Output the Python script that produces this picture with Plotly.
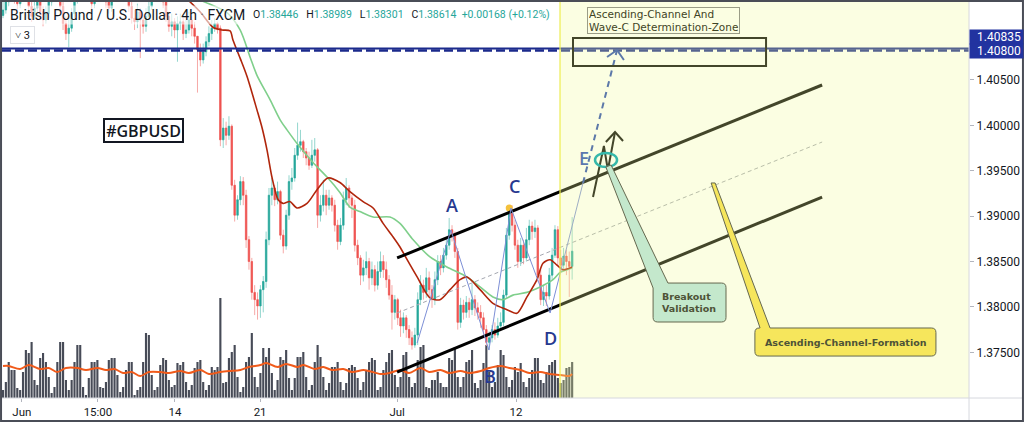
import plotly.graph_objects as go

# ---------------- data ----------------
x_tick_pos = [6.6, 33.2, 60.1, 89.9, 137.8, 179.4]
x_tick_text = ["Jun", "15:00", "14", "21", "Jul", "12"]
price_ticks = [1.375, 1.380, 1.385, 1.390, 1.395, 1.400, 1.405]

first_open = 1.4121
closes = [
    1.4127, 1.4136, 1.4145, 1.4151, 1.4142, 1.4134, 1.4142, 1.4153, 1.4145, 1.4131,
    1.4120, 1.4129, 1.4138, 1.4125, 1.4116, 1.4123, 1.4136, 1.4149, 1.4160, 1.4149,
    1.4131, 1.4112, 1.4101, 1.4107, 1.4123, 1.4138, 1.4149, 1.4160, 1.4167, 1.4156,
    1.4145, 1.4134, 1.4142, 1.4153, 1.4160, 1.4149, 1.4136, 1.4129, 1.4140, 1.4151,
    1.4160, 1.4167, 1.4156, 1.4145, 1.4131, 1.4118, 1.4114, 1.4125, 1.4116, 1.4109,
    1.4120, 1.4131, 1.4142, 1.4149, 1.4156, 1.4147, 1.4136, 1.4120, 1.4109, 1.4114,
    1.4105, 1.4112, 1.4114, 1.4101, 1.4105, 1.4116, 1.4107, 1.4098, 1.4083, 1.4072,
    1.4081, 1.4092, 1.4101, 1.4107, 1.4112, 1.4107, 1.3984, 1.3997, 1.3989, 1.3999,
    1.3934, 1.3901, 1.3918, 1.3938, 1.3923, 1.3874, 1.3850, 1.3816, 1.3808, 1.3801,
    1.3819, 1.3828, 1.3874, 1.3923, 1.3931, 1.3918, 1.3927, 1.3879, 1.3867, 1.3901,
    1.3938, 1.3942, 1.3967, 1.3978, 1.3982, 1.3971, 1.3964, 1.3956, 1.3967, 1.3973,
    1.3901, 1.3912, 1.3923, 1.3912, 1.3920, 1.3912, 1.3890, 1.3872, 1.3890, 1.3918,
    1.3931, 1.3920, 1.3912, 1.3868, 1.3854, 1.3835, 1.3843, 1.3850, 1.3832, 1.3841,
    1.3824, 1.3839, 1.3850, 1.3841, 1.3830, 1.3813, 1.3794, 1.3808, 1.3788, 1.3779,
    1.3788, 1.3775, 1.3766, 1.3758, 1.3769, 1.3808, 1.3824, 1.3816, 1.3832, 1.3819,
    1.3808, 1.3830, 1.3850, 1.3843, 1.3857, 1.3868, 1.3885, 1.3878, 1.3861, 1.3783,
    1.3802, 1.3794, 1.3805, 1.3797, 1.3808, 1.3799, 1.3794, 1.3788, 1.3775, 1.3761,
    1.3766, 1.3775, 1.3769, 1.3779, 1.3783, 1.3813, 1.3879, 1.3903, 1.3890, 1.3868,
    1.3850, 1.3868, 1.3854, 1.3874, 1.3889, 1.3883, 1.3887, 1.3835, 1.3808, 1.3816,
    1.3812, 1.3835, 1.3857, 1.3885, 1.3854, 1.3846, 1.3856, 1.3850, 1.38446, 1.38614,
]
highs = [
    1.4144, 1.4147, 1.4155, 1.4160, 1.4156, 1.4147, 1.4151, 1.4160, 1.4158, 1.4147,
    1.4136, 1.4136, 1.4145, 1.4140, 1.4131, 1.4131, 1.4145, 1.4158, 1.4169, 1.4164,
    1.4151, 1.4136, 1.4120, 1.4118, 1.4129, 1.4147, 1.4158, 1.4167, 1.4175, 1.4171,
    1.4160, 1.4149, 1.4151, 1.4162, 1.4169, 1.4164, 1.4151, 1.4142, 1.4147, 1.4160,
    1.4169, 1.4175, 1.4171, 1.4160, 1.4147, 1.4136, 1.4127, 1.4134, 1.4129, 1.4123,
    1.4129, 1.4142, 1.4151, 1.4158, 1.4164, 1.4160, 1.4149, 1.4140, 1.4125, 1.4123,
    1.4118, 1.4120, 1.4123, 1.4118, 1.4116, 1.4125, 1.4120, 1.4114, 1.4098, 1.4090,
    1.4090, 1.4098, 1.4109, 1.4116, 1.4118, 1.4114, 1.4110, 1.4008, 1.4004, 1.4010,
    1.4001, 1.3940, 1.3923, 1.3944, 1.3943, 1.3929, 1.3878, 1.3854, 1.3824, 1.3816,
    1.3824, 1.3834, 1.3883, 1.3931, 1.3942, 1.3934, 1.3938, 1.3929, 1.3885, 1.3907,
    1.3945, 1.3953, 1.3975, 1.4003, 1.3995, 1.3984, 1.3975, 1.3971, 1.3984, 1.3986,
    1.3975, 1.3923, 1.3940, 1.3929, 1.3929, 1.3923, 1.3918, 1.3896, 1.3898, 1.3927,
    1.3942, 1.3934, 1.3923, 1.3918, 1.3874, 1.3857, 1.3852, 1.3861, 1.3854, 1.3850,
    1.3846, 1.3850, 1.3861, 1.3857, 1.3850, 1.3835, 1.3824, 1.3813, 1.3810, 1.3797,
    1.3794, 1.3791, 1.3780, 1.3773, 1.3777, 1.3816, 1.3835, 1.3830, 1.3843, 1.3839,
    1.3824, 1.3839, 1.3857, 1.3857, 1.3865, 1.3876, 1.3898, 1.3890, 1.3883, 1.3865,
    1.3810, 1.3808, 1.3812, 1.3810, 1.3826, 1.3813, 1.3805, 1.3802, 1.3794, 1.3780,
    1.3773, 1.3780, 1.3783, 1.3788, 1.3794, 1.3819, 1.3887, 1.3909, 1.3912, 1.3896,
    1.3874, 1.3876, 1.3874, 1.3887, 1.3896, 1.3894, 1.3896, 1.3890, 1.3841, 1.3824,
    1.3824, 1.3843, 1.3865, 1.3890, 1.3889, 1.3863, 1.3865, 1.3863, 1.3861, 1.38989,
]
lows = [
    1.4118, 1.4123, 1.4131, 1.4140, 1.4134, 1.4127, 1.4129, 1.4140, 1.4136, 1.4125,
    1.4114, 1.4116, 1.4125, 1.4118, 1.4109, 1.4112, 1.4118, 1.4131, 1.4145, 1.4140,
    1.4125, 1.4105, 1.4094, 1.4086, 1.4103, 1.4118, 1.4134, 1.4145, 1.4153, 1.4147,
    1.4136, 1.4127, 1.4129, 1.4140, 1.4149, 1.4142, 1.4129, 1.4123, 1.4125, 1.4138,
    1.4147, 1.4156, 1.4149, 1.4138, 1.4125, 1.4112, 1.4105, 1.4107, 1.4074, 1.4101,
    1.4103, 1.4116, 1.4127, 1.4136, 1.4145, 1.4138, 1.4129, 1.4114, 1.4103, 1.4098,
    1.4096, 1.4070, 1.4105, 1.4094, 1.4096, 1.4101, 1.4098, 1.4090, 1.4036, 1.4065,
    1.4068, 1.4076, 1.4087, 1.4094, 1.4103, 1.4101, 1.3977, 1.3975, 1.3978, 1.3984,
    1.3929, 1.3894, 1.3896, 1.3912, 1.3912, 1.3865, 1.3841, 1.3808, 1.3791, 1.3786,
    1.3788, 1.3794, 1.3821, 1.3868, 1.3912, 1.3911, 1.3913, 1.3874, 1.3859, 1.3863,
    1.3896, 1.3929, 1.3938, 1.3962, 1.3971, 1.3964, 1.3956, 1.3951, 1.3953, 1.3960,
    1.3887, 1.3894, 1.3905, 1.3901, 1.3907, 1.3905, 1.3883, 1.3863, 1.3868, 1.3885,
    1.3912, 1.3909, 1.3898, 1.3861, 1.3846, 1.3824, 1.3828, 1.3835, 1.3819, 1.3824,
    1.3817, 1.3819, 1.3832, 1.3832, 1.3821, 1.3808, 1.3775, 1.3786, 1.3780, 1.3767,
    1.3771, 1.3766, 1.3758, 1.3753, 1.3755, 1.3758, 1.3802, 1.3808, 1.3810, 1.3812,
    1.3799, 1.3802, 1.3824, 1.3835, 1.3838, 1.3852, 1.3863, 1.3872, 1.3854, 1.3775,
    1.3777, 1.3786, 1.3788, 1.3788, 1.3791, 1.3790, 1.3786, 1.3777, 1.3766, 1.3757,
    1.3753, 1.3761, 1.3764, 1.3766, 1.3775, 1.3779, 1.3810, 1.3874, 1.3883, 1.3863,
    1.3843, 1.3845, 1.3847, 1.3850, 1.3868, 1.3874, 1.3876, 1.3828, 1.3802, 1.3801,
    1.3801, 1.3808, 1.3830, 1.3854, 1.3846, 1.3839, 1.3841, 1.3835, 1.3811, 1.38301,
]
volume_k = [
    8, 16, 36, 28, 28, 10, 8, 26, 48, 45, 56, 18,
    13, 40, 45, 36, 21, 5, 11, 36, 56, 56, 18, 8, 18, 36, 53, 53, 11, 3, 20, 36,
    36, 38, 11, 10, 16, 38, 40, 40, 23, 6, 11, 28, 36, 36, 3, 8, 11, 36, 65, 63,
    23, 8, 11, 33, 40, 38, 18, 11,
    13, 35, 33, 36, 16, 8, 13, 30, 36, 38, 16, 8, 13, 31, 28, 31, 100, 15, 16, 40,
    46, 53, 21, 6, 11, 36, 41, 65, 21, 11, 25, 50, 41, 50, 25, 8, 18, 41, 38, 48,
    20, 8, 20, 41, 41, 46, 21, 8, 13, 36, 53, 41, 21, 8, 15, 31, 31, 36, 16, 8,
    15, 30, 33, 31, 20, 8, 16, 28, 36, 40, 38, 8, 11, 28, 36, 45, 48, 23, 11,
    21, 43, 46, 21, 11, 15, 38, 51, 53, 11, 10, 18, 18, 26, 15, 11, 11, 40, 38, 51,
    21, 11, 21, 36, 38, 48, 15, 10, 18, 35, 53, 26, 11, 16, 33, 48, 43, 21, 11, 18,
    31, 26, 35, 16, 11, 20, 28, 40, 40, 18, 15, 26, 33, 36, 38, 20, 15, 18, 30, 31, 36,
]
vol_ma_idx = [0, 2, 6, 9, 13, 16, 19, 22, 26, 29, 33, 36, 39, 42, 45, 48, 51, 55, 58, 62,
              65, 69, 72, 76, 79, 83, 86, 90, 92, 96, 99, 103, 105, 109, 112, 115, 119, 122,
              126, 128, 132, 135, 139, 142, 146, 149, 153, 156, 160, 163, 167, 170, 174, 177,
              181, 184, 188, 191, 195, 198, 199]
vol_ma = [32, 32, 29, 33, 29, 30, 26, 30, 30, 28, 30, 28, 29, 25, 26, 22, 26, 26, 25, 27,
          25, 28, 24, 26, 27, 28, 31, 33, 35, 31, 34, 31, 33, 29, 31, 28, 29, 26,
          28, 27, 24, 25, 28, 25, 30, 26, 28, 25, 27, 25, 27, 30, 32, 30,
          28, 25, 26, 24, 23, 22, 24]
ma_red_idx = [51.4, 58.4, 64.7, 68.9, 73.4, 76.6, 79.4, 80.4, 82.9, 85.3, 88.8, 90.6, 92.3,
              94.1, 96.2, 97.9, 100.3, 102.8, 106.3, 109.8, 113.6, 117.8, 121.3, 125.9,
              129.4, 132.9, 136.4, 138.8, 141.3, 144.8, 149.3, 152.8, 156.3, 159.8, 162.2,
              166.8, 171.3, 176.2, 179.7, 183.2, 186.7, 188.8, 191.3, 193.7, 195.8, 199]
ma_red = [1.4171, 1.4155, 1.4138, 1.4125, 1.4108, 1.4105, 1.4104, 1.4094, 1.4074, 1.4054,
          1.4017, 1.3997, 1.3973, 1.3942, 1.3918, 1.3914, 1.3916, 1.3909, 1.3914, 1.3929,
          1.3942, 1.3937, 1.3927, 1.3916, 1.3909, 1.3892, 1.3877, 1.3866, 1.3852, 1.3833,
          1.3810, 1.3808, 1.3819, 1.3830, 1.3833, 1.3819, 1.3804, 1.3797, 1.3793, 1.3811,
          1.3830, 1.3848, 1.3852, 1.3846, 1.3841, 1.3844]
ma_green_idx = [61.9, 68.9, 78.3, 82.9, 86.4, 88.8, 93.4, 96.9, 99.3, 103.8, 108.4, 113.3,
                117.8, 121.3, 124.8, 129.4, 135.3, 138.8, 143.4, 149.3, 155.2, 162.2, 166.8,
                171.3, 174.8, 178.3, 183.2, 187.8, 192.3, 194.8, 197.2, 199]
ma_green = [1.4149, 1.4138, 1.4124, 1.4105, 1.4075, 1.4055, 1.4028, 1.4006, 1.3995, 1.3976,
            1.3959, 1.3943, 1.3926, 1.3910, 1.3905, 1.3899, 1.3899, 1.3892, 1.3874, 1.3855,
            1.3844, 1.3833, 1.3822, 1.3811, 1.3808, 1.3813, 1.3816, 1.3822, 1.3830, 1.3838,
            1.3841, 1.3843]

# ---------------- drawings (data coordinates: candle index, price) ----------------
HLINE = 1.40835
CH_UP = [(137.8, 1.38539), (286.4, 1.40444)]
CH_LO = [(137.8, 1.37283), (286.4, 1.39210)]
CH_MID = [(137.8, 1.37933), (286.4, 1.39816)]
WAVE = [(144.8, 1.37602), (156.6, 1.38847), (169.9, 1.37525), (177.6, 1.39089),
        (191.3, 1.37933), (202.8, 1.39365)]
WAVE_PROJ = [(202.8, 1.39365), (214.7, 1.40829)]
WAVE_HEAD = [(211.2, 1.40752), (214.7, 1.40829), (217.1, 1.40719)]
ZONE = (199.3, 266.8, 1.40653, 1.40961)
BREAKOUT = [(206.3, 1.39210), (210.1, 1.39772), (211.5, 1.39508), (214.0, 1.39926)]
BREAKOUT_HEAD = [(210.8, 1.39816), (214.0, 1.39926), (216.8, 1.39827)]
E_RING = (207.0, 214.7, 1.39541, 1.39695)
SHADE_START = 194.76
CALL1 = dict(x0=227.3, x1=252.8, y0=1.37834, y1=1.38263, base_x=232.5, base_y=1.38208,
             tip=[(210.8, 1.39541), (212.6, 1.39563)])
CALL2 = dict(x0=262.9, x1=326.2, y0=1.37459, y1=1.37768, base_a=264.7, base_b=268.2,
             tip=[(247.6, 1.39365), (249.0, 1.39365)])
LABELS = [("A", 157.0, 1.39122), ("B", 170.3, 1.37239), ("C", 179.0, 1.39331),
          ("D", 191.3, 1.37657), ("E", 203.1, 1.39640)]

UP, DN = "#26a69a", "#ef5350"
UP_W, DN_W = "#93d6ce", "#f6a9a7"

n = len(closes)
xs = list(range(n))
opens = [first_open] + closes[:-1]
body_hi = [max(o, c) for o, c in zip(opens, closes)]
body_lo = [min(o, c) for o, c in zip(opens, closes)]

fig = go.Figure()
fig.add_trace(go.Bar(x=xs, y=volume_k, yaxis="y", marker=dict(color="#474b57", line=dict(width=0)),
                     hoverinfo="skip"))
fig.add_trace(go.Scatter(x=vol_ma_idx, y=vol_ma, yaxis="y", mode="lines",
                         line=dict(color="#f05a1a", width=2, shape="spline", smoothing=0.9)))
fig.add_trace(go.Candlestick(x=xs, open=opens, high=highs, low=lows, close=closes, yaxis="y2",
                             increasing=dict(line=dict(color=UP_W, width=1), fillcolor=UP_W),
                             decreasing=dict(line=dict(color=DN_W, width=1), fillcolor=DN_W),
                             whiskerwidth=0))
fig.add_trace(go.Candlestick(x=xs, open=opens, high=body_hi, low=body_lo, close=closes, yaxis="y2",
                             increasing=dict(line=dict(color=UP, width=0.5), fillcolor=UP),
                             decreasing=dict(line=dict(color=DN, width=0.5), fillcolor=DN),
                             whiskerwidth=0))
fig.add_trace(go.Scatter(x=ma_green_idx, y=ma_green, yaxis="y2", mode="lines",
                         line=dict(color="#7fcf8b", width=1.6, shape="spline", smoothing=0.8)))
fig.add_trace(go.Scatter(x=ma_red_idx, y=ma_red, yaxis="y2", mode="lines",
                         line=dict(color="#b0260c", width=1.6, shape="spline", smoothing=0.8)))
fig.add_trace(go.Scatter(x=[177], y=[highs[177]], yaxis="y2", mode="markers",
                         marker=dict(color="#f4c13c", size=7)))


def line(p0, p1, color, width, dash=None):
    return dict(type="line", xref="x", yref="y2", x0=p0[0], y0=p0[1], x1=p1[0], y1=p1[1],
                line=dict(color=color, width=width, dash=dash), layer="above")


def poly(points, color, width, dash=None, close=False):
    d = "M " + " L ".join(f"{a},{b}" for a, b in points) + (" Z" if close else "")
    return dict(type="path", xref="x", yref="y2", path=d,
                line=dict(color=color, width=width, dash=dash), layer="above")


shapes = []
# horizontal level line (solid top + notched bottom)
shapes.append(dict(type="line", xref="paper", yref="y2", x0=0, x1=1, y0=HLINE + 0.00011, y1=HLINE + 0.00011,
                   line=dict(color="#1b2a8c", width=2), layer="above"))
shapes.append(dict(type="line", xref="paper", yref="y2", x0=0, x1=1, y0=HLINE - 0.00011, y1=HLINE - 0.00011,
                   line=dict(color="#1b2a8c", width=2.5, dash="9px,4px"), layer="above"))
# channel
shapes.append(line(CH_MID[0], CH_MID[1], "#a4a7b0", 1, "4px,3px"))
shapes.append(line(CH_UP[0], CH_UP[1], "#000000", 3))
shapes.append(line(CH_LO[0], CH_LO[1], "#000000", 3))
# wave
shapes.append(poly(WAVE, "#7d8fd6", 1))
shapes.append(line(WAVE_PROJ[0], WAVE_PROJ[1], "#2346b0", 2, "6px,5px"))
shapes.append(poly(WAVE_HEAD, "#2346b0", 2))
# zone rectangle
shapes.append(dict(type="rect", xref="x", yref="y2", x0=ZONE[0], x1=ZONE[1], y0=ZONE[2], y1=ZONE[3],
                   line=dict(color="#000000", width=2), fillcolor="rgba(0,0,0,0)", layer="above"))
# breakout arrow
shapes.append(poly(BREAKOUT, "#000000", 2))
shapes.append(poly(BREAKOUT_HEAD, "#000000", 2))
# yellow projection overlay
shapes.append(dict(type="rect", xref="x", yref="paper", x0=SHADE_START, x1=400, y0=0, y1=1,
                   fillcolor="rgba(242,250,150,0.28)", line=dict(width=0), layer="above"))
shapes.append(dict(type="line", xref="x", yref="paper", x0=SHADE_START, x1=SHADE_START, y0=0, y1=1,
                   line=dict(color="#eded50", width=1.2), layer="above"))
# E ring
shapes.append(dict(type="circle", xref="x", yref="y2", x0=E_RING[0], x1=E_RING[1], y0=E_RING[2], y1=E_RING[3],
                   line=dict(color="#36b8aa", width=2.5), layer="above"))

ri, rp = 1.6, 0.0005
c1 = CALL1
p1 = (f"M {c1['base_x']},{c1['y1']} L {c1['x1']-ri},{c1['y1']} Q {c1['x1']},{c1['y1']} {c1['x1']},{c1['y1']-rp} "
      f"L {c1['x1']},{c1['y0']+rp} Q {c1['x1']},{c1['y0']} {c1['x1']-ri},{c1['y0']} "
      f"L {c1['x0']+ri},{c1['y0']} Q {c1['x0']},{c1['y0']} {c1['x0']},{c1['y0']+rp} "
      f"L {c1['x0']},{c1['base_y']} L {c1['tip'][0][0]},{c1['tip'][0][1]} "
      f"L {c1['tip'][1][0]},{c1['tip'][1][1]} Z")
shapes.append(dict(type="path", xref="x", yref="y2", path=p1, fillcolor="#c4e8cc",
                   line=dict(color="#65684f", width=1), layer="above"))
c2 = CALL2
p2 = (f"M {c2['base_b']},{c2['y1']} L {c2['x1']-ri},{c2['y1']} Q {c2['x1']},{c2['y1']} {c2['x1']},{c2['y1']-rp} "
      f"L {c2['x1']},{c2['y0']+rp} Q {c2['x1']},{c2['y0']} {c2['x1']-ri},{c2['y0']} "
      f"L {c2['x0']+ri},{c2['y0']} Q {c2['x0']},{c2['y0']} {c2['x0']},{c2['y0']+rp} "
      f"L {c2['x0']},{c2['y1']-rp} Q {c2['x0']},{c2['y1']} {c2['x0']+ri},{c2['y1']} "
      f"L {c2['base_a']},{c2['y1']} L {c2['tip'][0][0]},{c2['tip'][0][1]} "
      f"L {c2['tip'][1][0]},{c2['tip'][1][1]} Z")
shapes.append(dict(type="path", xref="x", yref="y2", path=p2, fillcolor="#f6e65c",
                   line=dict(color="#65684f", width=1), layer="above"))

# frame / axis separators (paper)
shapes.append(dict(type="line", xref="paper", yref="paper", x0=-0.01, x1=1.06, y0=0, y1=0,
                   line=dict(color="#d6d8de", width=1), layer="above"))
shapes.append(dict(type="line", xref="paper", yref="paper", x0=1.0, x1=1.0, y0=-0.07, y1=1.01,
                   line=dict(color="#d6d8de", width=1), layer="above"))
shapes.append(dict(type="rect", xref="paper", yref="paper", x0=-0.001, x1=1.0558, y0=-0.0581, y1=1.0025,
                   line=dict(color="#4a4d57", width=2), fillcolor="rgba(0,0,0,0)", layer="above"))

ann = []
hdr = ('British Pound / U.S. Dollar <span style="color:#787b86">·</span> 4h '
       '<span style="color:#787b86">·</span> FXCM')
ann.append(dict(xref="paper", yref="paper", x=0.0062, y=0.9672, xanchor="left", yanchor="middle",
                text=hdr, showarrow=False, font=dict(size=14, color="#131722", family="Roboto"),
                bgcolor="rgba(255,255,255,0.6)"))
T = "#26a69a"
sp = "\u00a0\u00a0\u00a0"
ohlc = (f'O<span style="color:{T}">1.38446</span>{sp}H<span style="color:{T}">1.38989</span>{sp}'
        f'L<span style="color:{T}">1.38301</span>{sp}C<span style="color:{T}">1.38614</span>\u00a0\u00a0'
        f'<span style="color:{T}">+0.00168 (+0.12%)</span>')
ann.append(dict(xref="paper", yref="paper", x=0.2575, y=0.9672, xanchor="left", yanchor="middle",
                text=ohlc, showarrow=False, font=dict(size=10.5, color="#131722", family="Roboto"),
                bgcolor="rgba(255,255,255,0.6)"))
ann.append(dict(xref="paper", yref="paper", x=0.0212, y=0.9167, xanchor="center", yanchor="middle",
                text="˅ 3", showarrow=False, font=dict(size=11, color="#131722", family="Roboto"),
                bgcolor="white", bordercolor="#dfe1e6", borderwidth=1, borderpad=1, width=21, height=14))
ann.append(dict(xref="x", yref="y2", x=49.1, y=1.39943, text="#GBPUSD", showarrow=False,
                font=dict(size=16, color="#131722", family="Open Sans", weight=600),
                bgcolor="white", bordercolor="#131722", borderwidth=2, borderpad=1, width=75, height=19))
for t, lx, ly in LABELS:
    ann.append(dict(xref="x", yref="y2", x=lx, y=ly, text=t, showarrow=False,
                    font=dict(size=18, color="#5b77ae" if t == "E" else "#27398f",
                              family="Open Sans", weight=600)))
ann.append(dict(xref="x", yref="y2", x=230.8, y=1.41149,
                text="Ascending-Channel And<br>Wave-C Determination-Zone", showarrow=False, align="left",
                font=dict(size=10.5, color="#3f4425", family="DejaVu Sans"),
                bordercolor="#9a9c86", borderwidth=1, borderpad=1, height=23))
ann.append(dict(xref="x", yref="y2", x=240.0, y=1.38048, text="Breakout<br>Validation", showarrow=False,
                align="left", font=dict(size=9.5, color="#4e5337", family="DejaVu Sans", weight="bold")))
ann.append(dict(xref="x", yref="y2", x=294.6, y=1.37613, text="Ascending-Channel-Formation", showarrow=False,
                font=dict(size=9.5, color="#4e5337", family="DejaVu Sans", weight="bold")))
for txt, yy in (("1.40835", 0.9116), ("1.40800", 0.8763)):
    ann.append(dict(xref="paper", yref="paper", x=1.0, y=yy, xanchor="left", yanchor="middle",
                    text=txt, showarrow=False, align="right",
                    font=dict(size=12, color="white", family="Roboto"),
                    bgcolor="#2233a0", borderpad=2, width=49, height=10))

fig.update_layout(
    width=1024, height=422,
    margin=dict(l=2, r=55, t=2, b=24, pad=0),
    paper_bgcolor="white", plot_bgcolor="white",
    showlegend=False, hovermode=False, bargap=0.25,
    font=dict(family="Roboto", color="#131722", size=11.5),
    xaxis=dict(range=[-0.35, 337.76], tickmode="array", tickvals=x_tick_pos, ticktext=x_tick_text,
               showgrid=False, zeroline=False, showline=False,
               ticks="outside", ticklen=3, tickcolor="#b2b5be", tickfont=dict(size=11.5),
               rangeslider=dict(visible=False), fixedrange=True),
    yaxis=dict(range=[0, 396], visible=False, fixedrange=True),
    yaxis2=dict(overlaying="y", side="right", range=[1.36997, 1.41358], tickmode="array",
                tickvals=price_ticks, tickformat=".5f", showgrid=False, zeroline=False, showline=False,
                ticks="outside", ticklen=4, tickcolor="#b2b5be", tickfont=dict(size=12), fixedrange=True),
    shapes=shapes, annotations=ann,
)

fig.write_html("out.html", config={"displayModeBar": False},
               post_script="document.body.style.margin='0';document.body.style.overflow='hidden';")
